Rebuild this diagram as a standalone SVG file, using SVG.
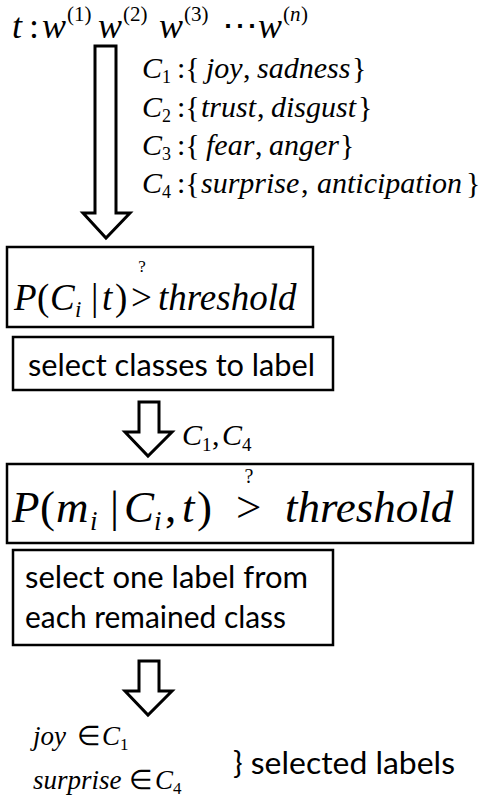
<svg xmlns="http://www.w3.org/2000/svg" width="484" height="803" viewBox="0 0 484 803">
<defs>
<path id="bigArrow" d="M95,46 H116 V213 H130 L106,238 L83,213 H95 Z"/>
<path id="smallArrow" d="M-9,0 H11 V30 H24 L0,54 L-23,30 H-9 Z"/>
</defs>
<rect width="484" height="803" fill="#fff"/>
<g id="input">
<text x="12" y="38" font-family="Liberation Serif" font-size="36" font-style="italic">t</text>
<text x="29" y="38" font-family="Liberation Serif" font-size="36">:</text>
<text x="42" y="38" font-family="Liberation Serif" font-size="36" font-style="italic">w</text>
<text x="67" y="21" font-family="Liberation Serif" font-size="21">(1)</text>
<text x="98" y="38" font-family="Liberation Serif" font-size="36" font-style="italic">w</text>
<text x="123" y="21" font-family="Liberation Serif" font-size="21">(2)</text>
<text x="159" y="38" font-family="Liberation Serif" font-size="36" font-style="italic">w</text>
<text x="184" y="21" font-family="Liberation Serif" font-size="21">(3)</text>
<text x="222" y="38" font-family="Liberation Serif" font-size="36">⋯</text>
<text x="258" y="38" font-family="Liberation Serif" font-size="36" font-style="italic">w</text>
<text x="283" y="21" font-family="Liberation Serif" font-size="21">(</text>
<text x="290" y="21" font-family="Liberation Serif" font-size="21" font-style="italic">n</text>
<text x="301" y="21" font-family="Liberation Serif" font-size="21">)</text>
</g>
<g id="classes">
<text x="142" y="78" font-family="Liberation Serif" font-size="30" font-style="italic">C</text>
<text x="162" y="83" font-family="Liberation Serif" font-size="18">1</text>
<text x="177" y="78" font-family="Liberation Serif" font-size="30">:{</text>
<text x="206" y="78" font-family="Liberation Serif" font-size="30" font-style="italic">joy</text>
<text x="243" y="78" font-family="Liberation Serif" font-size="30">,</text>
<text x="257" y="78" font-family="Liberation Serif" font-size="30" font-style="italic">sadness</text>
<text x="352" y="78" font-family="Liberation Serif" font-size="30">}</text>
<text x="142" y="117" font-family="Liberation Serif" font-size="30" font-style="italic">C</text>
<text x="162" y="122" font-family="Liberation Serif" font-size="18">2</text>
<text x="177" y="117" font-family="Liberation Serif" font-size="30">:{</text>
<text x="201" y="117" font-family="Liberation Serif" font-size="30" font-style="italic">trust</text>
<text x="257" y="117" font-family="Liberation Serif" font-size="30">,</text>
<text x="271" y="117" font-family="Liberation Serif" font-size="30" font-style="italic">disgust</text>
<text x="358" y="117" font-family="Liberation Serif" font-size="30">}</text>
<text x="142" y="155" font-family="Liberation Serif" font-size="30" font-style="italic">C</text>
<text x="162" y="160" font-family="Liberation Serif" font-size="18">3</text>
<text x="177" y="155" font-family="Liberation Serif" font-size="30">:{</text>
<text x="206" y="155" font-family="Liberation Serif" font-size="30" font-style="italic">fear</text>
<text x="255" y="155" font-family="Liberation Serif" font-size="30">,</text>
<text x="269" y="155" font-family="Liberation Serif" font-size="30" font-style="italic">anger</text>
<text x="340" y="155" font-family="Liberation Serif" font-size="30">}</text>
<text x="142" y="193" font-family="Liberation Serif" font-size="30" font-style="italic">C</text>
<text x="162" y="198" font-family="Liberation Serif" font-size="18">4</text>
<text x="177" y="193" font-family="Liberation Serif" font-size="30">:{</text>
<text x="201" y="193" font-family="Liberation Serif" font-size="30" font-style="italic">surprise</text>
<text x="301" y="193" font-family="Liberation Serif" font-size="30">,</text>
<text x="317" y="193" font-family="Liberation Serif" font-size="30" font-style="italic">anticipation</text>
<text x="466" y="193" font-family="Liberation Serif" font-size="30">}</text>
</g>
<g id="threshold1">
<rect x="7" y="247" width="306" height="80" fill="#fff" stroke="#000" stroke-width="2.5"/>
<text x="14" y="310" font-family="Liberation Serif" font-size="37" font-style="italic">P</text>
<text x="37" y="310" font-family="Liberation Serif" font-size="37">(</text>
<text x="50" y="310" font-family="Liberation Serif" font-size="37" font-style="italic">C</text>
<text x="75" y="317" font-family="Liberation Serif" font-size="23" font-style="italic">i</text>
<text x="91" y="310" font-family="Liberation Serif" font-size="37">|</text>
<text x="102" y="310" font-family="Liberation Serif" font-size="37" font-style="italic">t</text>
<text x="115" y="310" font-family="Liberation Serif" font-size="37">)</text>
<text x="131" y="310" font-family="Liberation Serif" font-size="37">&gt;</text>
<text x="158" y="310" font-family="Liberation Serif" font-size="37" font-style="italic">threshold</text>
<text x="142" y="272" font-family="Liberation Serif" font-size="17" text-anchor="middle">?</text>
</g>
<g id="select1">
<rect x="13" y="337" width="320" height="53" fill="#fff" stroke="#000" stroke-width="2.5"/>
<text x="28" y="376" font-family="Lato" font-size="30.5" textLength="287" lengthAdjust="spacingAndGlyphs">select classes to label</text>
</g>
<g id="threshold2">
<rect x="7" y="464" width="466" height="79" fill="#fff" stroke="#000" stroke-width="2.5"/>
<text x="12" y="522" font-family="Liberation Serif" font-size="45" font-style="italic">P</text>
<text x="40" y="522" font-family="Liberation Serif" font-size="45">(</text>
<text x="56" y="522" font-family="Liberation Serif" font-size="45" font-style="italic">m</text>
<text x="90" y="530" font-family="Liberation Serif" font-size="27" font-style="italic">i</text>
<text x="110" y="522" font-family="Liberation Serif" font-size="45">|</text>
<text x="124" y="522" font-family="Liberation Serif" font-size="45" font-style="italic">C</text>
<text x="154" y="530" font-family="Liberation Serif" font-size="27" font-style="italic">i</text>
<text x="165" y="522" font-family="Liberation Serif" font-size="45">,</text>
<text x="182" y="522" font-family="Liberation Serif" font-size="45" font-style="italic">t</text>
<text x="197" y="522" font-family="Liberation Serif" font-size="45">)</text>
<text x="236" y="522" font-family="Liberation Serif" font-size="45">&gt;</text>
<text x="285" y="522" font-family="Liberation Serif" font-size="45" font-style="italic">threshold</text>
<text x="249" y="483" font-family="Liberation Serif" font-size="20" text-anchor="middle">?</text>
</g>
<g id="select2">
<rect x="13" y="550" width="320" height="95" fill="#fff" stroke="#000" stroke-width="2.5"/>
<text x="25" y="588" font-family="Lato" font-size="30.5" textLength="283" lengthAdjust="spacingAndGlyphs">select one label from</text>
<text x="25" y="628" font-family="Lato" font-size="30.5" textLength="261" lengthAdjust="spacingAndGlyphs">each remained class</text>
</g>
<g id="result">
<text x="33" y="745" font-family="Liberation Serif" font-size="27" font-style="italic">joy</text>
<text x="77" y="745" font-family="Liberation Serif" font-size="27">∈</text>
<text x="102" y="745" font-family="Liberation Serif" font-size="27" font-style="italic">C</text>
<text x="120" y="750" font-family="Liberation Serif" font-size="17">1</text>
<text x="33" y="789" font-family="Liberation Serif" font-size="27" font-style="italic">surprise</text>
<text x="129" y="789" font-family="Liberation Serif" font-size="27">∈</text>
<text x="155" y="789" font-family="Liberation Serif" font-size="27" font-style="italic">C</text>
<text x="173" y="794" font-family="Liberation Serif" font-size="17">4</text>
<text x="233" y="774" font-family="Lato" font-size="30.5" textLength="222" lengthAdjust="spacingAndGlyphs">} selected labels</text>
</g>
<g id="connectors" fill="#fff" stroke="#000" stroke-width="3">
<use href="#bigArrow"/>
<use href="#smallArrow" x="148" y="402"/>
<use href="#smallArrow" x="148" y="661"/>
</g>
<g id="arrowLabel">
<text x="182" y="445" font-family="Liberation Serif" font-size="30" font-style="italic">C</text>
<text x="202" y="451" font-family="Liberation Serif" font-size="19">1</text>
<text x="212" y="445" font-family="Liberation Serif" font-size="30">,</text>
<text x="222" y="445" font-family="Liberation Serif" font-size="30" font-style="italic">C</text>
<text x="242" y="451" font-family="Liberation Serif" font-size="19">4</text>
</g>
</svg>
